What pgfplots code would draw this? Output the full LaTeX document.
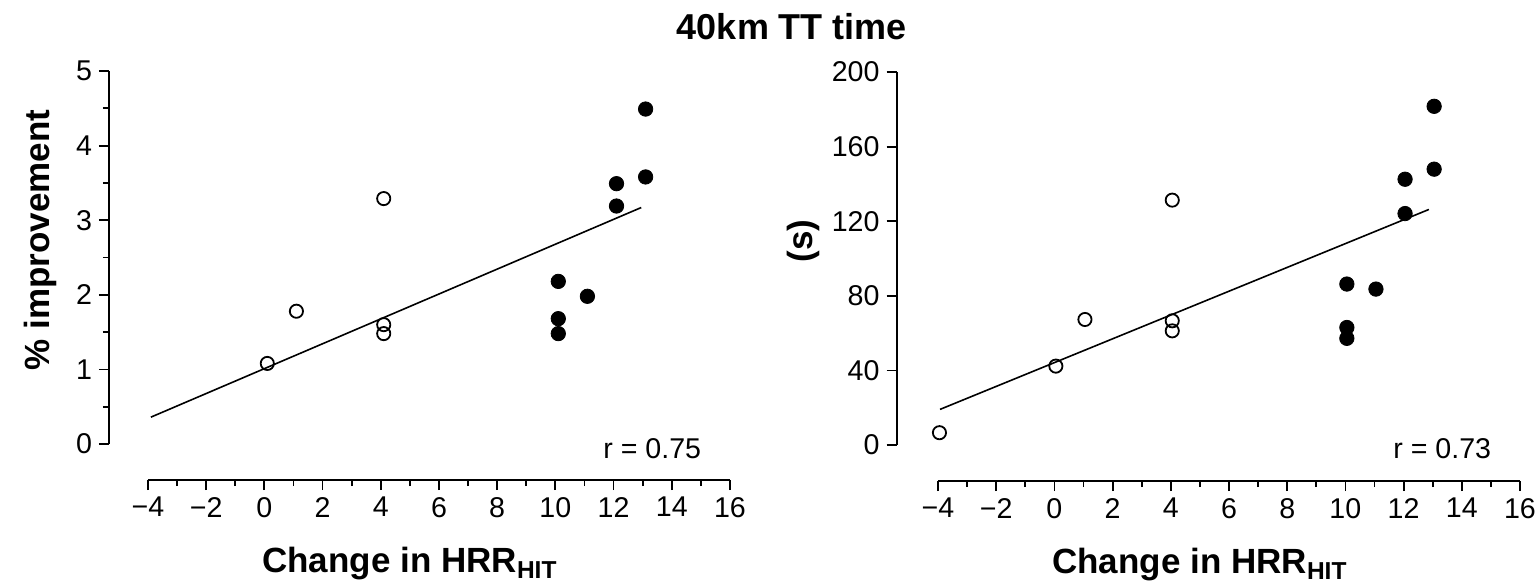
\documentclass[border=0pt]{standalone}
\usepackage{fontspec}
\setmainfont{Liberation Sans}
\usepackage{pgfplots}
\pgfplotsset{compat=1.18}

% left panel: % improvement
\pgfplotstableread{
x y
0.1 1.08
1.1 1.78
4.1 3.29
4.1 1.60
4.1 1.48
}\leftopen
\pgfplotstableread{
x y
10.1 2.18
10.1 1.68
10.1 1.48
11.1 1.98
12.1 3.49
12.1 3.19
13.1 4.49
13.1 3.58
}\leftfilled

% right panel: seconds
\pgfplotstableread{
x y
-3.95 6.6
0.05 42.3
1.05 67.3
4.05 131.3
4.05 66.6
4.05 61.2
}\rightopen
\pgfplotstableread{
x y
10.05 86.3
10.05 63.0
10.05 57.2
11.05 83.6
12.05 142.5
12.05 124.1
13.05 181.6
13.05 147.9
}\rightfilled

\pgfplotsset{
  prism/.style={
    scale only axis, width=291pt, height=186.5pt,
    axis lines*=left,
    axis x line shift=18pt,
    xmin=-4, xmax=16,
    xtick={-4,-2,...,16},
    xticklabels={−4,−2,0,2,4,6,8,10,12,14,16},
    minor x tick num=1,
    tick align=outside,
    major tick length=5pt, minor tick length=3pt,
    axis line style={line width=1pt},
    every tick/.style={black, line width=0.9pt},
    tick label style={font=\fontsize{14.3}{16}\selectfont},
    /pgf/number format/assume math mode=true,
    label style={font=\fontsize{17.5}{20}\selectfont\bfseries},
    xlabel={Change in HRR\textsubscript{HIT}},
    xlabel style={at={(axis description cs:0.45,-0.3458)}, anchor=base},
    clip=false,
  },
  openpt/.style={only marks, mark=o, mark size=3.3pt, mark options={line width=0.9pt, fill=white}},
  fullpt/.style={only marks, mark=*, mark size=3.6pt},
}

\begin{document}
\begin{tikzpicture}
\useasboundingbox (0,0) rectangle (769.5pt,-292pt);
\node[anchor=base, font=\fontsize{18}{20}\selectfont\bfseries] at (396pt,-19.5pt) {40km TT time};

\begin{axis}[prism, at={(74pt,-222pt)}, anchor=south west,
    axis y line shift=19.5pt,
    ymin=0, ymax=5, ytick={0,...,5}, minor y tick num=1,
    ylabel={\% improvement},
    ylabel style={at={(axis description cs:-0.1856,0.547)}, anchor=center},
]
\addplot[black, line width=0.8pt] coordinates {(-3.9,0.36) (12.95,3.17)};
\addplot[openpt] table {\leftopen};
\addplot[fullpt] table {\leftfilled};
\node[anchor=base east, font=\fontsize{14.3}{16}\selectfont] at (axis cs:15.25,-0.19) {r = 0.75};
\end{axis}

\begin{axis}[prism, at={(469pt,-222.5pt)}, anchor=south west,
    axis y line shift=20.7pt,
    ymin=0, ymax=200, ytick={0,40,...,200},
    ylabel={(s)},
    ylabel style={at={(axis description cs:-0.232,0.547)}, anchor=center},
]
\addplot[black, line width=0.8pt] coordinates {(-3.93,19.1) (12.87,126.3)};
\addplot[openpt] table {\rightopen};
\addplot[fullpt] table {\rightfilled};
\node[anchor=base east, font=\fontsize{14.3}{16}\selectfont] at (axis cs:15.25,-7) {r = 0.73};
\end{axis}
\end{tikzpicture}
\end{document}
